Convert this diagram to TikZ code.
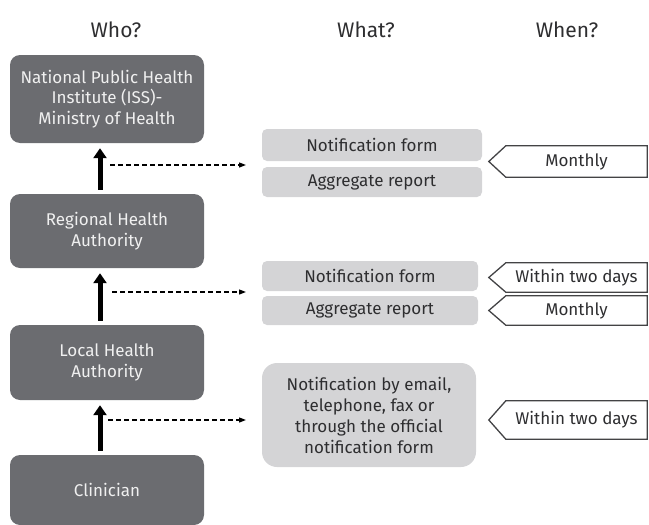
\documentclass[tikz,border=0pt]{standalone}
\usepackage{fontspec}
\setmainfont{Fira Sans}
\usetikzlibrary{arrows.meta, positioning}

\definecolor{darkbox}{HTML}{6B6C70}
\definecolor{lightbox}{HTML}{D4D4D6}
\definecolor{inktext}{HTML}{2E2E30}

\begin{document}
\begin{tikzpicture}[
    x=1pt, y=-1pt,
    every node/.style={align=center, inner sep=0pt},
    head/.style={font=\fontsize{21}{25}\selectfont, text=inktext},
    who/.style={fill=darkbox, text=white!94!black, rounded corners=10pt,
        minimum width=194pt, font=\fontsize{17}{20.5}\selectfont},
    what/.style={fill=lightbox, text=inktext, rounded corners=5pt,
        font=\fontsize{17}{21}\selectfont},
    when/.style={text=inktext, minimum width=141pt,
        font=\fontsize{17}{21}\selectfont},
    tagline/.style={draw=inktext!90, line width=1.3pt, line join=miter},
    upflow/.style={line width=5pt, -{Triangle[width=13pt,length=10pt]},
        shorten <=4pt, shorten >=5pt},
    sendflow/.style={line width=1.2pt, dash pattern=on 5pt off 3pt,
        -{Triangle[length=7pt,width=5pt]}}
]
    \useasboundingbox (0,0) rectangle (649,525);

    % Headers
    \node[head] (whohead) at (116,30) {Who?};
    \node[head] (whathead) at (366,30) {What?};
    \node[head] (whenhead) at (567,30) {When?};

    % Who
    \node[who, minimum height=88pt] (nat) at (107,99) {National Public Health\\Institute (ISS)-\\Ministry of Health};
    \node[who, minimum height=74pt] (reg) at (107,231) {Regional Health\\Authority};
    \node[who, minimum height=75pt] (loc) at (107,362.5) {Local Health\\Authority};
    \node[who, minimum height=70pt] (cli) at (107,490) {Clinician};

    % What
    \node[what, minimum width=220pt, minimum height=32pt] (form1) at (372,145) {Notification form};
    \node[what, minimum width=220pt, minimum height=30pt] (aggr1) at (372,182) {Aggregate report};
    \node[what, minimum width=216pt, minimum height=30pt] (form2) at (370,276) {Notification form};
    \node[what, minimum width=216pt, minimum height=29pt] (aggr2) at (370,310.5) {Aggregate report};
    \node[what, minimum width=214pt, minimum height=104pt, rounded corners=15pt] (direct) at (369,415)
        {Notification by email,\\telephone, fax or\\through the official\\notification form};

    % When
    \node[when, minimum height=31pt] (month1) at (576.5,161.5) {Monthly};
    \node[when, minimum height=29pt] (days2) at (576.5,277.5) {Within two days};
    \node[when, minimum height=29pt] (month2) at (576.5,310.5) {Monthly};
    \node[when, minimum height=38pt] (days3) at (576.5,420) {Within two days};
    \foreach \t in {month1, days2, month2, days3}
        \draw[tagline] (\t.north west) -- (\t.north east) -- (\t.south east)
            -- (\t.south west) -- ([xshift=-17pt]\t.west) -- cycle;

    % Reporting upwards
    \draw[upflow] ([xshift=-7pt]reg.north) -- ([xshift=-7pt]nat.south);
    \draw[upflow] ([xshift=-7pt]loc.north) -- ([xshift=-7pt]reg.south);
    \draw[upflow] ([xshift=-7pt]cli.north) -- ([xshift=-7pt]loc.south);

    % What is sent
    \coordinate (s1) at (110,165);
    \coordinate (e1) at (246,165);
    \coordinate (s2) at (112,292);
    \coordinate (e2) at (246,292);
    \coordinate (s3) at (108,420);
    \coordinate (e3) at (246,420);
    \draw[sendflow] (s1) -- (e1);
    \draw[sendflow] (s2) -- (e2);
    \draw[sendflow] (s3) -- (e3);

\end{tikzpicture}
\end{document}
